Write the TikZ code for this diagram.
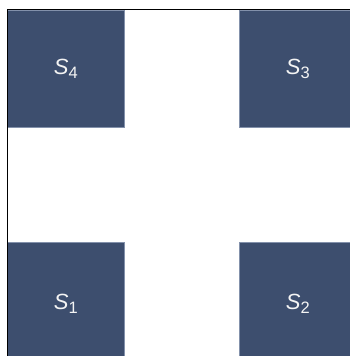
\documentclass[tikz,border=0pt]{standalone}
\usepackage{fontspec}
\setmainfont{Liberation Sans}
\definecolor{boxfill}{HTML}{3D4E6E}
\definecolor{boxedge}{HTML}{8391AB}
\definecolor{boxtext}{HTML}{F4F4F4}
\newcommand{\slabel}[1]{{\fontsize{22}{22}\selectfont\itshape S}\raisebox{-4pt}{\fontsize{16.5}{16.5}\selectfont #1}}
\tikzset{
  sq/.style={rectangle, fill=boxfill, draw=boxedge, line width=0.6pt, inner sep=0pt,
    minimum width=117pt, text=boxtext, anchor=north west},
  frame/.style={black, line width=1pt}
}
\begin{document}
\begin{tikzpicture}[x=1pt,y=-1pt]
\useasboundingbox (0,0) rectangle (350,356);
\clip (0,0) rectangle (350,356);
\node[sq, minimum height=117pt] (s4) at (7,10) {\slabel{4}};
\node[sq, minimum height=117pt] (s3) at (239,10) {\slabel{3}};
\node[sq, minimum height=123pt] (s1) at (7,242) {\slabel{1}};
\node[sq, minimum height=123pt] (s2) at (239,242) {\slabel{2}};
\coordinate (fl) at (7,356);
\coordinate (fc) at (7,9.5);
\coordinate (fr) at (350,9.5);
\draw[frame] (fl) -- (fc) -- (fr);
\end{tikzpicture}
\end{document}
